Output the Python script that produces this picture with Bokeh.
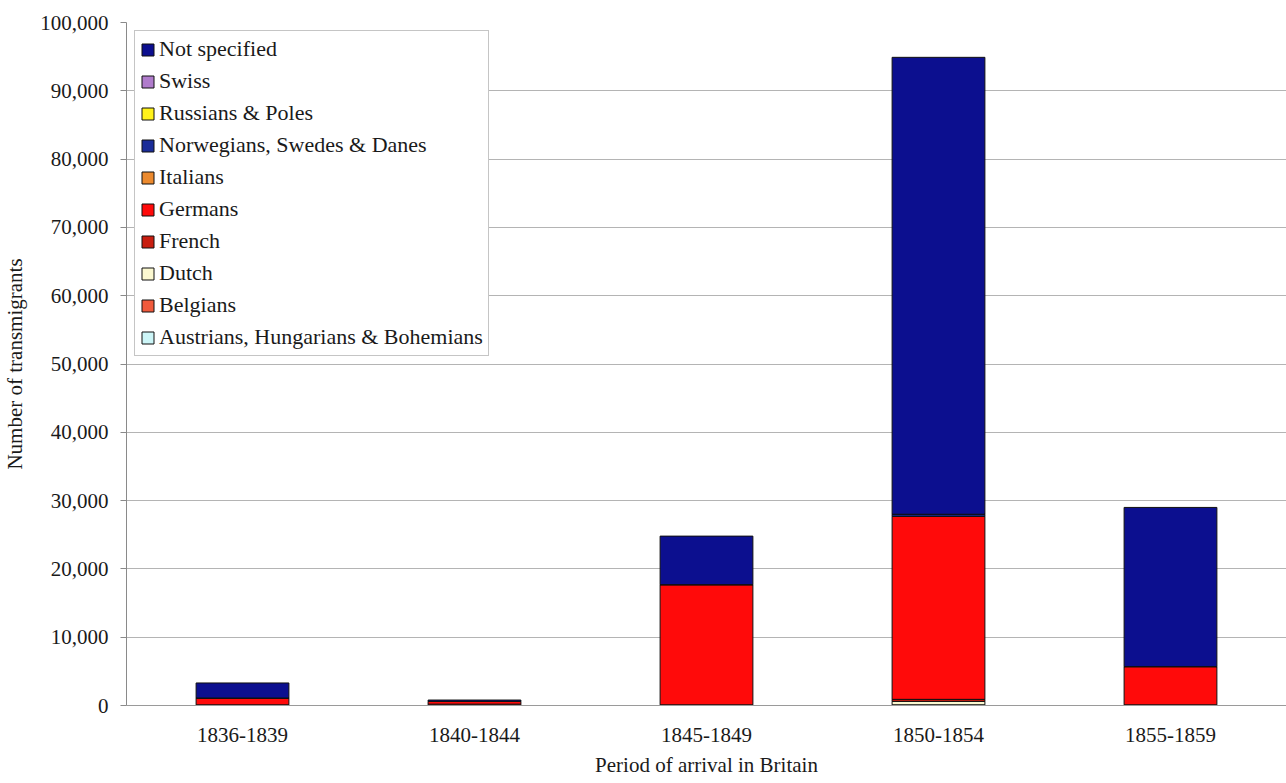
from bokeh.plotting import figure
from bokeh.models import (Range1d, FactorRange, NumeralTickFormatter, FixedTicker,
                          Legend, LegendItem, ColumnDataSource)
from bokeh.embed import file_html
from bokeh.resources import INLINE

periods = ["1836-1839", "1840-1844", "1845-1849", "1850-1854", "1855-1859"]

austrians = [0, 0, 0, 100, 0]
belgians = [0, 0, 0, 0, 0]
dutch = [0, 0, 0, 500, 0]
french = [100, 200, 100, 300, 100]
germans = [1000, 400, 17600, 26800, 5600]
italians = [0, 0, 0, 0, 0]
norwegians = [0, 0, 0, 300, 0]
russians = [0, 0, 0, 0, 0]
swiss = [0, 0, 0, 0, 0]
not_specified = [2200, 200, 7100, 66900, 23300]

y_ticks = list(range(0, 100001, 10000))

# stacking order bottom -> top
series = [
    ("Austrians, Hungarians & Bohemians", austrians, "#ccf5f7"),
    ("Belgians", belgians, "#f05a3c"),
    ("Dutch", dutch, "#fbf8d0"),
    ("French", french, "#c81e10"),
    ("Germans", germans, "#ff0a0a"),
    ("Italians", italians, "#ec8a2e"),
    ("Norwegians, Swedes & Danes", norwegians, "#1a2c98"),
    ("Russians & Poles", russians, "#fff21a"),
    ("Swiss", swiss, "#b07ccc"),
    ("Not specified", not_specified, "#0c0f8f"),
]

data = {"period": periods}
keys = []
for i, (name, vals, col) in enumerate(series):
    k = "s%d" % i
    keys.append(k)
    data[k] = vals
src = ColumnDataSource(data)

FONT = "Liberation Serif"

p = figure(x_range=FactorRange(*periods), y_range=Range1d(0, 100000),
           width=1286, height=783, output_backend="svg", toolbar_location=None,
           min_border_left=126, min_border_right=0, min_border_top=22,
           min_border_bottom=78)
p.outline_line_color = None

renderers = p.vbar_stack(keys, x="period", width=0.4, source=src,
                         color=[c for _, _, c in series],
                         line_color="#111111", line_width=1)
for r, (_, _, c) in zip(renderers, series):
    r.glyph.fill_color = c
    r.glyph.line_color = "#111111"

items = [LegendItem(label=name, renderers=[r]) for (name, _, _), r in zip(series, renderers)]
items = items[::-1]
legend = Legend(items=items, location="top_left")
legend.label_text_font = FONT
legend.label_text_font_size = "22px"
legend.label_text_color = "#1a1a1a"
legend.glyph_width = 15
legend.glyph_height = 15
legend.label_height = 22
legend.label_standoff = 4
legend.spacing = 6
legend.padding = 5
legend.margin = 8
legend.border_line_color = "#8c8c8c"
legend.border_line_width = 1
legend.background_fill_alpha = 1
p.add_layout(legend, "center")

p.xgrid.grid_line_color = None
p.ygrid.grid_line_color = "#b4b4b4"
p.ygrid.ticker = FixedTicker(ticks=y_ticks)

p.yaxis.ticker = FixedTicker(ticks=y_ticks)
p.yaxis.formatter = NumeralTickFormatter(format="0,0")
p.yaxis.axis_line_color = "#8a8a8a"
p.yaxis.major_tick_line_color = "#8a8a8a"
p.yaxis.major_tick_out = 6
p.yaxis.major_tick_in = 0
p.yaxis.minor_tick_line_color = None
p.yaxis.major_label_standoff = 12
p.yaxis.major_label_text_font = FONT
p.yaxis.major_label_text_font_size = "21px"
p.yaxis.major_label_text_color = "#1a1a1a"
p.yaxis.axis_label = "Number of transmigrants"
p.yaxis.axis_label_text_font = FONT
p.yaxis.axis_label_text_font_size = "21px"
p.yaxis.axis_label_text_font_style = "normal"
p.yaxis.axis_label_text_color = "#1a1a1a"
p.yaxis.axis_label_standoff = 10

p.xaxis.axis_line_color = "#9a9a9a"
p.xaxis.major_tick_line_color = None
p.xaxis.minor_tick_line_color = None
p.xaxis.major_label_standoff = 16
p.xaxis.major_label_text_font = FONT
p.xaxis.major_label_text_font_size = "21px"
p.xaxis.major_label_text_color = "#1a1a1a"
p.xaxis.axis_label = "Period of arrival in Britain"
p.xaxis.axis_label_text_font = FONT
p.xaxis.axis_label_text_font_size = "21px"
p.xaxis.axis_label_text_font_style = "normal"
p.xaxis.axis_label_text_color = "#1a1a1a"
p.xaxis.axis_label_standoff = 8

open("out.html", "w").write(file_html(p, INLINE))
